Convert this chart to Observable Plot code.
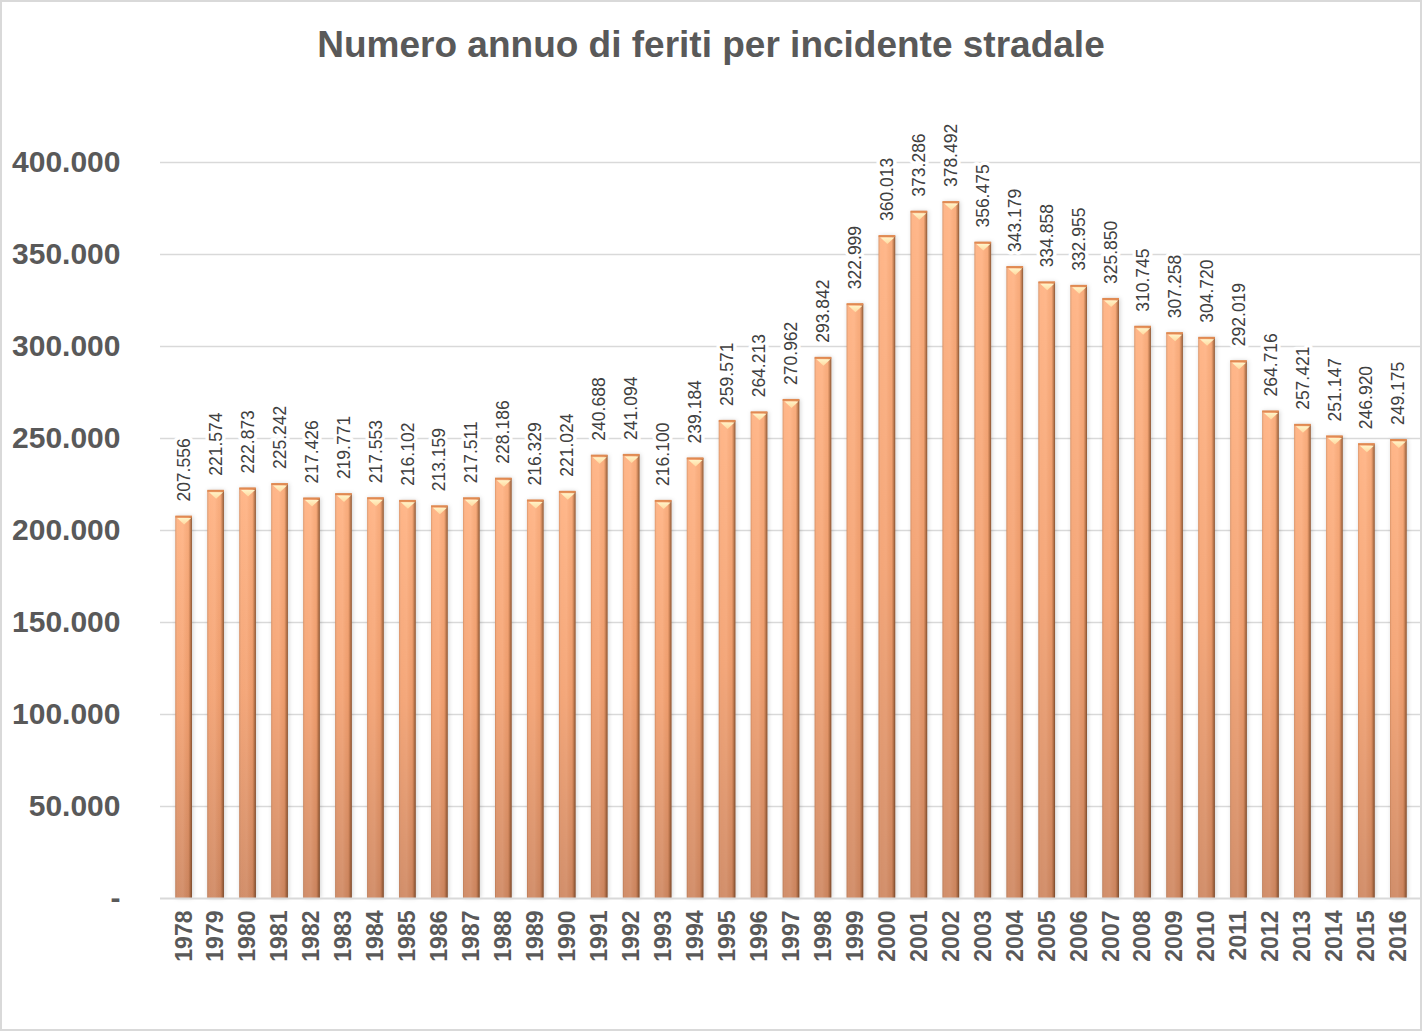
<!DOCTYPE html>
<html>
<head>
<meta charset="utf-8">
<script src="https://cdn.jsdelivr.net/npm/d3@7"></script>
<script src="https://cdn.jsdelivr.net/npm/@observablehq/plot@0.6"></script>
<style>
  html, body { margin: 0; padding: 0; background: #fff; }
  #wrap { position: relative; width: 1422px; height: 1031px; overflow: hidden; background: #fff; }
  #title { height: 100px; box-sizing: border-box; padding-top: 26px; text-align: center;
           font-family: "Liberation Sans", Arial, sans-serif; font-weight: bold; font-size: 37px;
           line-height: 37px; color: #595959; }
  #border { position: absolute; inset: 0; border: 2px solid #d9d9d9; box-sizing: border-box; pointer-events: none; }
  svg { display: block; }
</style>
</head>
<body>
<div id="wrap">
  <div id="title">Numero annuo di feriti per incidente stradale</div>
  <div id="chart"></div>
  <div id="border"></div>
</div>
<script>
const years = ["1978","1979","1980","1981","1982","1983","1984","1985","1986","1987","1988","1989","1990",
  "1991","1992","1993","1994","1995","1996","1997","1998","1999","2000","2001","2002","2003","2004",
  "2005","2006","2007","2008","2009","2010","2011","2012","2013","2014","2015","2016"];
const feriti = [207556,221574,222873,225242,217426,219771,217553,216102,213159,217511,228186,216329,221024,
  240688,241094,216100,239184,259571,264213,270962,293842,322999,360013,373286,378492,356475,343179,
  334858,332955,325850,310745,307258,304720,292019,264716,257421,251147,246920,249175];
const yTicks = [0,50000,100000,150000,200000,250000,300000,350000,400000];

const data = years.map((y, i) => ({year: y, value: feriti[i]}));
const it = d3.formatLocale({decimal: ",", thousands: ".", grouping: [3], currency: ["", "€"]});
const fmt = it.format(",");

const tri = { draw(ctx) { ctx.moveTo(-7, 1.5); ctx.lineTo(7, 1.5); ctx.lineTo(0, 8); ctx.closePath(); } };

const chart = Plot.plot({
  width: 1422,
  height: 931,
  marginTop: 62,
  marginBottom: 133,
  marginLeft: 160,
  marginRight: 0,
  style: { fontFamily: "Liberation Sans, Arial, sans-serif", background: "transparent" },
  x: { domain: years, padding: 0.48, label: null },
  y: { domain: [0, 400000], ticks: yTicks, label: null },
  marks: [
    Plot.ruleY(yTicks.filter(d => d > 0), { stroke: "#d9d9d9", strokeWidth: 1.6 }),
    Plot.axisY({ ticks: yTicks, tickSize: 0, tickPadding: 40, fontSize: 30, fontWeight: "bold",
      fill: "#595959", tickFormat: d => d === 0 ? "-" : fmt(d), label: null }),
    Plot.barY(data, { x: "year", y: "value", fill: "url(#vgrad)" }),
    Plot.barY(data, { x: "year", y: "value", fill: "url(#hgrad)" }),
    Plot.tickY(data, { x: "year", y: "value", stroke: "#e08a52", strokeWidth: 2 }),
    Plot.dot(data, { x: "year", y: "value", symbol: tri, fill: "url(#tgrad)", stroke: "none" }),
    Plot.ruleY([0], { stroke: "#d9d9d9", strokeWidth: 2.2 }),
    Plot.axisX({ tickRotate: -90, tickSize: 0, tickPadding: 12, fontSize: 23,
      fontWeight: "bold", fill: "#595959", label: null,
      fontFamily: "Liberation Sans Narrow, Arial Narrow, Liberation Sans, sans-serif" }),
    Plot.text(data, { x: "year", y: "value", text: d => fmt(d.value), rotate: -90,
      textAnchor: "start", dy: -15, fontSize: 17.5, fill: "#404040",
      stroke: "white", strokeWidth: 7 })
  ]
});

const ns = "http://www.w3.org/2000/svg";
const defs = document.createElementNS(ns, "defs");
defs.innerHTML = `
  <linearGradient id="vgrad" x1="0" y1="0" x2="0" y2="1">
    <stop offset="0" stop-color="#ffb282"/>
    <stop offset="0.5" stop-color="#f3a171"/>
    <stop offset="1" stop-color="#cf8862"/>
  </linearGradient>
  <linearGradient id="hgrad" x1="0" y1="0" x2="1" y2="0">
    <stop offset="0" stop-color="#7a3a10" stop-opacity="0.28"/>
    <stop offset="0.14" stop-color="#ffffff" stop-opacity="0.05"/>
    <stop offset="0.45" stop-color="#ffffff" stop-opacity="0.08"/>
    <stop offset="0.78" stop-color="#7a3a10" stop-opacity="0.05"/>
    <stop offset="0.9" stop-color="#5a2a08" stop-opacity="0.35"/>
    <stop offset="1" stop-color="#3a1a04" stop-opacity="0.6"/>
  </linearGradient>
  <linearGradient id="tgrad" x1="0" y1="0" x2="0" y2="1">
    <stop offset="0" stop-color="#fff4c8"/>
    <stop offset="1" stop-color="#ffd9a0"/>
  </linearGradient>`;
chart.insertBefore(defs, chart.firstChild);
const bars = chart.querySelectorAll('g[aria-label="bar"]');
if (bars[0]) bars[0].style.filter = "drop-shadow(1px 0px 2px rgba(0,0,0,0.18))";
document.getElementById("chart").appendChild(chart);
</script>
</body>
</html>
